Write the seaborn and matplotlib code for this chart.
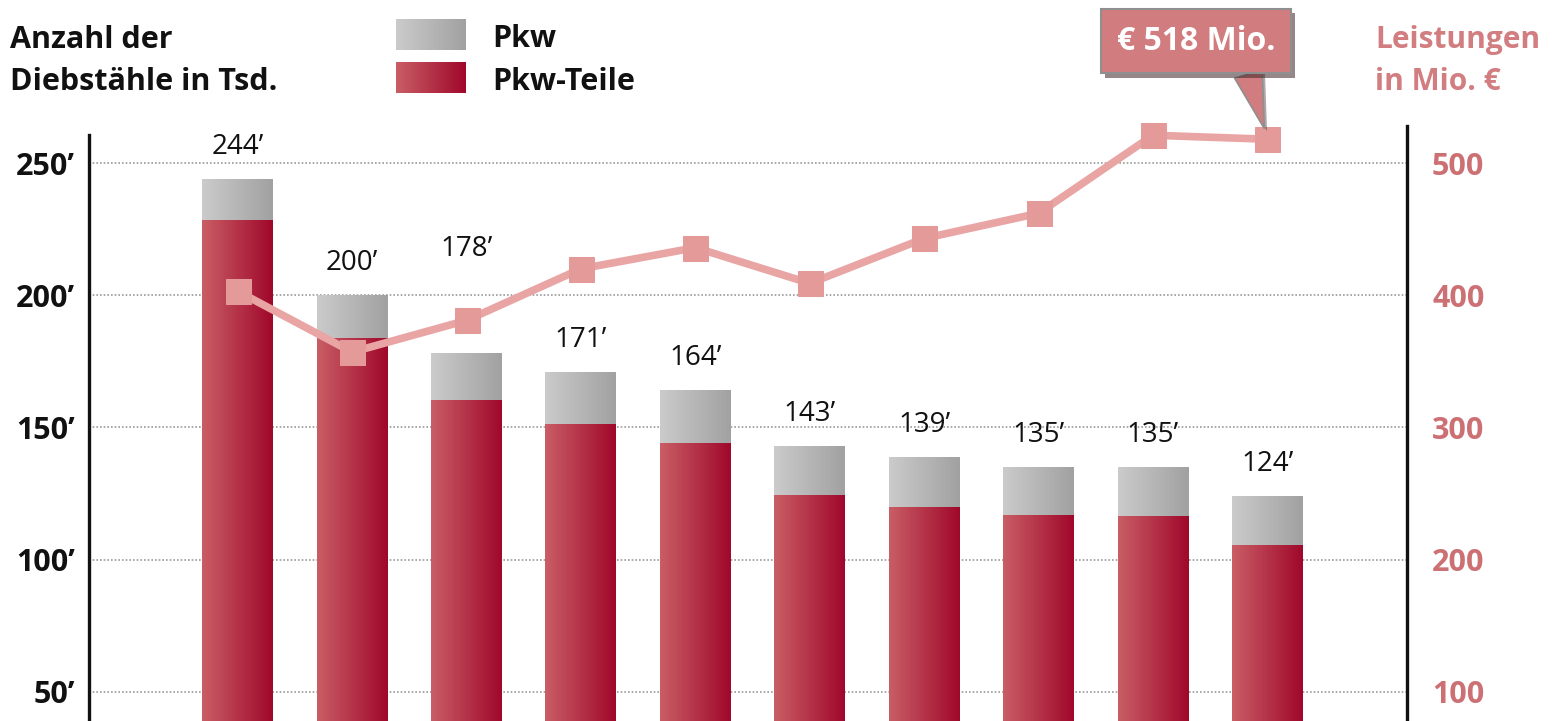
import numpy as np
import pandas as pd
import matplotlib
matplotlib.use("Agg")
import matplotlib.pyplot as plt
import seaborn as sns
from matplotlib.colors import LinearSegmentedColormap
from matplotlib import patheffects as pe

# ---------------- data ----------------
years = ["2003", "2004", "2005", "2006", "2007", "2008", "2009", "2010", "2011", "2012"]
total_thefts = [244, 200, 178, 171, 164, 143, 139, 135, 135, 124]        # Pkw + Pkw-Teile (Tsd.)
parts_thefts = [228.5, 184, 160.5, 151.5, 144, 124.5, 120, 117, 116.5, 105.5]  # Pkw-Teile (Tsd.)
payments = [403, 357, 381, 420, 436, 409, 443, 462, 521, 518]              # Leistungen in Mio. €
left_ticks = [50, 100, 150, 200, 250]
right_ticks = [100, 200, 300, 400, 500]
callout_text = "€ 518 Mio."

# ---------------- style ----------------
sns.set_theme(style="white")
plt.rcParams["font.family"] = ["Open Sans", "DejaVu Sans"]

W, H = 1554, 721
fig = plt.figure(figsize=(W / 100, H / 100), dpi=100)
ax_left, ax_right_px, ax_top_px = 89, 1407, 126
ax = fig.add_axes([ax_left / W, 0, (ax_right_px - ax_left) / W, (H - ax_top_px) / H])

df = pd.DataFrame({"year": years, "total": total_thefts, "parts": parts_thefts})

RED = ["#c95e66", "#a0082b"]
GRAY = ["#cbcbcb", "#a1a1a1"]
bar_w = 0.62
sns.barplot(data=df, x="year", y="total", color=GRAY[1], width=bar_w, ax=ax,
            saturation=1, zorder=3, edgecolor="none")
n_gray = len(ax.patches)
sns.barplot(data=df, x="year", y="parts", color=RED[1], width=bar_w, ax=ax,
            saturation=1, zorder=3, edgecolor="none")

cm_red = LinearSegmentedColormap.from_list("r", RED)
cm_gray = LinearSegmentedColormap.from_list("g", GRAY)
grad = np.linspace(0, 1, 256).reshape(1, -1)
for i, p in enumerate(list(ax.patches)):
    x0, y0 = p.get_x(), p.get_y()
    w, h = p.get_width(), p.get_height()
    cmap = cm_gray if i < n_gray else cm_red
    im = ax.imshow(grad, cmap=cmap, aspect="auto", extent=(x0, x0 + w, y0, y0 + h),
                   zorder=3.5 if i < n_gray else 3.6, interpolation="bilinear")
    im.set_clip_path(p)

ylo, yhi = 39, 264
ax.set_xlim(-1.3, 9 + 1.22)
ax.set_ylim(ylo, yhi)
ax.set_xlabel("")
ax.set_ylabel("")
ax.set_xticks([])
ax.set_yticks(left_ticks)
ax.set_yticklabels([f"{t}\u2019" for t in left_ticks], fontsize=22, fontweight="bold", color="#111111")
ax.tick_params(axis="y", length=0, pad=10)
ax.grid(False)
for t in left_ticks:
    ax.axhline(t, color="#9a9a9a", lw=1.2, ls=(0, (1, 1.2)), zorder=1)
for s in ["top", "bottom", "right"]:
    ax.spines[s].set_visible(False)
ax.spines["left"].set_color("#111111")
ax.spines["left"].set_linewidth(2.4)
ax.spines["left"].set_bounds(ylo, 260.5)
ax.set_facecolor("none")

# value labels above bars
extra = {2: 65}
for i, v in enumerate(total_thefts):
    ax.annotate(f"{v}\u2019", xy=(i, v), xytext=(0, extra.get(i, 13)), textcoords="offset points",
                ha="center", va="bottom", fontsize=20, color="#111111", zorder=6)

# ---------------- right axis / line ----------------
ax2 = ax.twinx()
ax2.set_ylim(ylo * 2, yhi * 2)
LINE = "#e9a4a4"
sns.lineplot(x=np.arange(len(payments)), y=payments, ax=ax2, color=LINE, lw=5.5,
             marker="s", markersize=18, markerfacecolor="#e59a9a", markeredgecolor="#e59a9a",
             zorder=5, clip_on=False)
ax2.set_xlim(ax.get_xlim())
ax2.set_yticks(right_ticks)
ax2.set_yticklabels([str(t) for t in right_ticks], fontsize=22, fontweight="bold", color="#cc7074")
ax2.tick_params(axis="y", length=0, pad=18)
ax2.set_ylabel("")
for s in ["top", "bottom", "left"]:
    ax2.spines[s].set_visible(False)
ax2.spines["right"].set_color("#111111")
ax2.spines["right"].set_linewidth(2.4)
ax2.grid(False)

# callout
BOX = "#d17c7e"
ann = ax2.annotate(callout_text, xy=(9, payments[-1]), xycoords="data",
                   xytext=(1196 / W, (H - 41) / H), textcoords="figure fraction",
                   ha="center", va="center", fontsize=23, fontweight="bold", color="white",
                   bbox=dict(boxstyle="square,pad=0.5", facecolor=BOX, edgecolor="#8f8f8f", linewidth=1.5),
                   arrowprops=dict(arrowstyle="wedge,tail_width=0.9,shrink_factor=0.5",
                                   facecolor=BOX, edgecolor="#8f8f8f", linewidth=1.2,
                                   relpos=(0.8, 0.0), shrinkA=0, shrinkB=8),
                   zorder=10, annotation_clip=False)
ann.get_bbox_patch().set_path_effects([pe.withSimplePatchShadow(offset=(3, -3), alpha=0.55)])
ann.arrow_patch.set_facecolor(BOX)
ann.arrow_patch.set_path_effects([pe.withSimplePatchShadow(offset=(2, -2), alpha=0.4)])

# ---------------- header texts & legend ----------------
def fy(px):
    return 1 - px / H

fig.text(10 / W, fy(48), "Anzahl der", ha="left", va="baseline",
         fontsize=22, fontweight="bold", color="#111111")
fig.text(10 / W, fy(90), "Diebstähle in Tsd.", ha="left", va="baseline",
         fontsize=22, fontweight="bold", color="#111111")
fig.text(1375 / W, fy(48), "Leistungen", ha="left", va="baseline",
         fontsize=21.5, fontweight="bold", color="#d27d80")
fig.text(1375 / W, fy(90), "in Mio. €", ha="left", va="baseline",
         fontsize=21.5, fontweight="bold", color="#d27d80")

for (y0, y1), cmap, label, base in [((19, 50), cm_gray, "Pkw", 47), ((62, 93), cm_red, "Pkw-Teile", 90)]:
    lax = fig.add_axes([396 / W, 1 - y1 / H, 70 / W, (y1 - y0) / H])
    lax.imshow(grad, cmap=cmap, aspect="auto", interpolation="bilinear")
    lax.set_axis_off()
    fig.text(492 / W, fy(base), label, ha="left", va="baseline",
             fontsize=22, fontweight="bold", color="#111111")

fig.savefig("out.png", dpi=100)
